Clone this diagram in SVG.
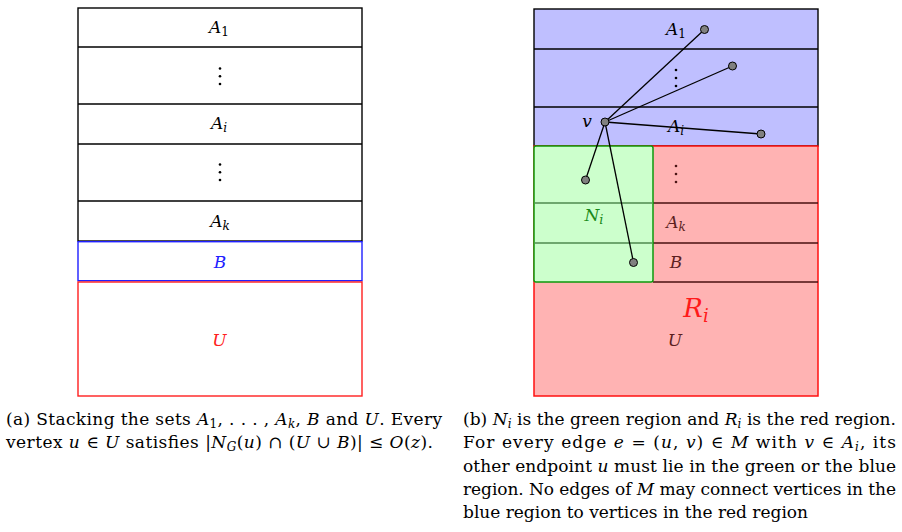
<svg xmlns="http://www.w3.org/2000/svg" width="902" height="532" viewBox="0 0 902 532">
<style>
text{font-family:"DejaVu Serif","Liberation Serif",serif}
.lbl{font-size:17px;text-anchor:middle}
.m{font-style:italic}
.cap{font-size:17px}
.blk{fill:none;stroke:#000;stroke-width:1.4}
.edge{stroke:#000;stroke-width:1.3}
.vx{fill:#808080;stroke:#000;stroke-width:1}
.dot{fill:#000}
.rdot{fill:#4a1414}
.rtxt{fill:#5c1f1f}
</style>
<rect width="902" height="532" fill="#fff"/>

<!-- Left stack -->
<g id="left-A">
<rect class="blk" x="78" y="8" width="284" height="233"/>
<line class="blk" x1="78" y1="47" x2="362" y2="47"/>
<line class="blk" x1="78" y1="104" x2="362" y2="104"/>
<line class="blk" x1="78" y1="144" x2="362" y2="144"/>
<line class="blk" x1="78" y1="201" x2="362" y2="201"/>
<text class="lbl" x="219" y="33"><tspan class="m">A</tspan><tspan font-size="12" dy="3">1</tspan></text>
<circle class="dot" cx="220" cy="68.5" r="1.3"/><circle class="dot" cx="220" cy="76.3" r="1.3"/><circle class="dot" cx="220" cy="84" r="1.3"/>
<text class="lbl" x="219" y="129"><tspan class="m">A</tspan><tspan class="m" font-size="12" dy="3">i</tspan></text>
<circle class="dot" cx="220" cy="164.5" r="1.3"/><circle class="dot" cx="220" cy="172.3" r="1.3"/><circle class="dot" cx="220" cy="180" r="1.3"/>
<text class="lbl" x="220" y="227"><tspan class="m">A</tspan><tspan class="m" font-size="12" dy="3">k</tspan></text>
</g>
<g id="left-B">
<rect x="78" y="241.7" width="284" height="39" fill="none" stroke="#1f1fff" stroke-width="1.4"/>
<text class="lbl m" x="220" y="268" fill="#2020ff">B</text>
</g>
<g id="left-U">
<rect x="78" y="282" width="284" height="114" fill="none" stroke="#ff1f1f" stroke-width="1.4"/>
<text class="lbl m" x="219.5" y="346" fill="#ff2020">U</text>
</g>

<!-- Right stack -->
<g id="right-A">
<rect x="534" y="9" width="284" height="137" fill="#bfbfff" stroke="#000" stroke-width="1.4"/>
<line class="blk" x1="534" y1="49" x2="818" y2="49"/>
<line class="blk" x1="534" y1="107" x2="818" y2="107"/>
<text class="lbl" x="676" y="35"><tspan class="m">A</tspan><tspan font-size="12" dy="3">1</tspan></text>
<circle class="dot" cx="676" cy="70" r="1.3"/><circle class="dot" cx="676" cy="78" r="1.3"/><circle class="dot" cx="676" cy="86" r="1.3"/>
<text class="lbl" x="676" y="132"><tspan class="m">A</tspan><tspan class="m" font-size="12" dy="3">i</tspan></text>
</g>
<g id="right-R">
<rect x="534" y="146" width="284" height="250" fill="#ffb3b3" stroke="#ff1010" stroke-width="1.5"/>
<g stroke="#4a1010" stroke-width="1.4">
<line x1="653" y1="203" x2="818" y2="203"/>
<line x1="653" y1="243" x2="818" y2="243"/>
<line x1="653" y1="282" x2="818" y2="282"/>
</g>
<circle class="rdot" cx="676" cy="166" r="1.3"/><circle class="rdot" cx="676" cy="174" r="1.3"/><circle class="rdot" cx="676" cy="182" r="1.3"/>
<text class="lbl rtxt" x="676" y="228"><tspan class="m">A</tspan><tspan class="m" font-size="12" dy="3">k</tspan></text>
<text class="lbl rtxt m" x="676" y="268">B</text>
<text class="lbl rtxt m" x="675" y="346">U</text>
<text x="696" y="317" font-size="26" fill="#ff1a1a" text-anchor="middle"><tspan class="m">R</tspan><tspan class="m" font-size="18" dy="5">i</tspan></text>
</g>
<g id="right-N">
<rect x="534" y="146" width="119" height="136" rx="2" fill="#ccffcc" stroke="#0c9a0c" stroke-width="1.5"/>
<g stroke="#4f8a4f" stroke-width="1.4">
<line x1="534.8" y1="203" x2="652.2" y2="203"/>
<line x1="534.8" y1="243" x2="652.2" y2="243"/>
</g>
<text class="lbl" x="594" y="221" font-size="19" fill="#1a8a1a"><tspan class="m">N</tspan><tspan class="m" font-size="13" dy="3">i</tspan></text>
</g>

<!-- Connectors -->
<g id="edges">
<line class="edge" x1="605" y1="122" x2="704.5" y2="29.5"/>
<line class="edge" x1="605" y1="122" x2="732.5" y2="66"/>
<line class="edge" x1="605" y1="122" x2="761" y2="134"/>
<line class="edge" x1="605" y1="122" x2="585.5" y2="180"/>
<line class="edge" x1="605" y1="122" x2="633.5" y2="262.5"/>
</g>

<g id="v">
<circle class="vx" cx="605" cy="122" r="4"/>
<text class="lbl m" x="587" y="127">v</text>
</g>
<g id="u1"><circle class="vx" cx="704.5" cy="29.5" r="4"/></g>
<g id="u2"><circle class="vx" cx="732.5" cy="66" r="4"/></g>
<g id="u3"><circle class="vx" cx="761" cy="134" r="4"/></g>
<g id="u4"><circle class="vx" cx="585.5" cy="180" r="4"/></g>
<g id="u5"><circle class="vx" cx="633.5" cy="262.5" r="4"/></g>

<!-- Captions -->
<g id="caption-a" class="cap">
<text x="6" y="425" textLength="436" lengthAdjust="spacing">(a) Stacking the sets <tspan class="m">A</tspan><tspan font-size="12" dy="3">1</tspan><tspan dy="-3">, . . . , </tspan><tspan class="m">A</tspan><tspan class="m" font-size="12" dy="3">k</tspan><tspan dy="-3">, </tspan><tspan class="m">B</tspan> and <tspan class="m">U</tspan>. Every</text>
<text x="6" y="448.3" textLength="427" lengthAdjust="spacing">vertex <tspan class="m">u</tspan> ∈ <tspan class="m">U</tspan> satisfies |<tspan class="m">N</tspan><tspan class="m" font-size="12" dy="3">G</tspan><tspan dy="-3">(</tspan><tspan class="m">u</tspan>) ∩ (<tspan class="m">U</tspan> ∪ <tspan class="m">B</tspan>)| ≤ <tspan class="m">O</tspan>(<tspan class="m">z</tspan>).</text>
</g>
<g id="caption-b" class="cap">
<text x="463" y="425" textLength="433" lengthAdjust="spacing">(b) <tspan class="m">N</tspan><tspan class="m" font-size="12" dy="3">i</tspan><tspan dy="-3"> is the green region and </tspan><tspan class="m">R</tspan><tspan class="m" font-size="12" dy="3">i</tspan><tspan dy="-3"> is the red region.</tspan></text>
<text x="463" y="448.3" textLength="433" lengthAdjust="spacing">For every edge <tspan class="m">e</tspan> = (<tspan class="m">u</tspan>, <tspan class="m">v</tspan>) ∈ <tspan class="m">M</tspan> with <tspan class="m">v</tspan> ∈ <tspan class="m">A</tspan><tspan class="m" font-size="12" dy="3">i</tspan><tspan dy="-3">, its</tspan></text>
<text x="463" y="471.6" textLength="433" lengthAdjust="spacing">other endpoint <tspan class="m">u</tspan> must lie in the green or the blue</text>
<text x="463" y="494.9" textLength="433" lengthAdjust="spacing">region. No edges of <tspan class="m">M</tspan> may connect vertices in the</text>
<text x="463" y="518.2" textLength="345" lengthAdjust="spacing">blue region to vertices in the red region</text>
</g>
</svg>
